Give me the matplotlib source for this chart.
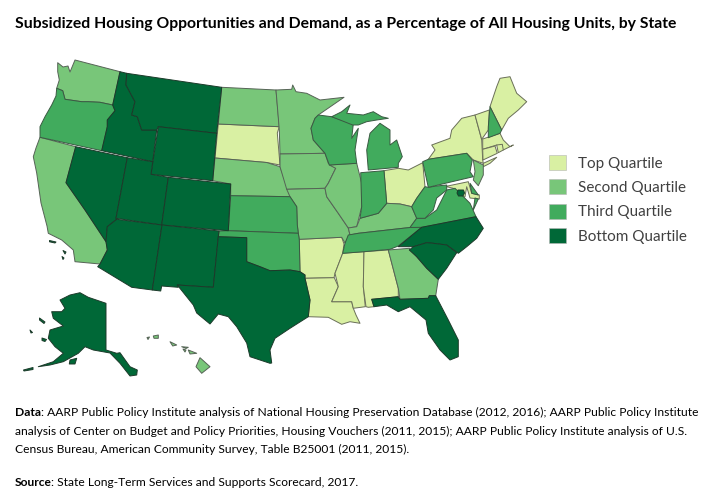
import matplotlib
matplotlib.use('Agg')
import matplotlib.pyplot as plt
from matplotlib.patches import Patch, Polygon

WA = [(57.7,62.7),(63,67),(68,66),(70,72),(75,60),(120,71.7),(112.7,105),(100,102.3),(88.3,101.7),(81.7,101.7),(70,100),(65,99.3),(62.7,90.7),(56.7,88.3),(59.3,80),(57.7,71.7)]
OR = [(56.7,88.3),(62.7,90.7),(65,99.3),(70,100),(81.7,101.7),(88.3,101.7),(100,102.3),(112.7,105),(115,110.7),(107.3,120),(107.3,126.7),(101.7,150.7),(40,137.3),(40,126.7),(45,116.7),(51.7,105),(56,96)]
CA = [(40,137.3),(75.7,146.7),(66,182.7),(85,210),(106,241.7),(107.3,250),(100,264),(75,261.7),(73.3,250),(61.7,240),(48.3,233.3),(47,226),(41,203),(36.7,173),(33.3,156.7),(36,148)]
NV = [(75.7,146.7),(127.3,157.7),(116,218.3),(116.7,219.3),(107.3,226.7),(106,241.7),(85,210),(66,182.7)]
ID = [(120,71.7),(126.7,73.3),(126,85),(135,101.7),(131.7,115),(137.3,116.7),(141.7,130),(156.7,130),(152.7,161.7),(101.7,150.7),(107.3,126.7),(107.3,120),(115,110.7),(112.7,105)]
MT = [(126.7,73.3),(221.7,87.3),(216.7,133.3),(158.3,126.7),(156.7,130),(141.7,130),(137.3,116.7),(131.7,115),(135,101.7),(126,85)]
WY = [(158.3,126.7),(216.7,133.3),(212.7,180.7),(151,174.3)]
UT = [(127.3,157.7),(152.7,161.7),(151,174.3),(168.3,177.3),(161.7,225),(116,218.3)]
CO = [(168.3,177.3),(230.7,184),(228.3,230.7),(161.7,225)]
AZ = [(116.7,219.3),(162,225),(152.3,290),(131.7,287.3),(97.7,266.7),(100,264),(107.3,250),(106,241.7),(107.3,226.7)]
NM = [(162,225),(219,231),(218.3,236.7),(213.3,287.3),(177.3,285),(178.3,287.3),(161.7,286),(160.7,291),(152.3,290)]
TX = [(218.3,236.7),(246.7,237.7),(246.7,261.7),(260,266.7),(270,270.7),(290,270),(300,271.7),(305,275),(305,278.3),(310,300),(308.3,316.7),(290,328.3),(275,338.3),(270,350),(271.7,363),(270,363.3),(250,356.7),(246.7,343),(236.7,326.7),(228.3,316.7),(218.3,314),(210,324),(196.7,313),(193.3,305),(177.3,285),(213.3,287.3)]
OK = [(219,231),(228.3,230.7),(298.3,233.3),(299.3,240),(300,271.7),(290,270),(270,270.7),(260,266.7),(246.7,261.7),(246.7,237.7),(218.3,236.7)]
KS = [(230.7,195.7),(290,196.7),(296.7,206.7),(297.3,225),(298.3,233.3),(228.3,230.7)]
NE = [(215,158),(266.7,162.5),(280,166.7),(288.3,190),(290,196.7),(230.7,195.7),(230.7,184),(212.7,180.7)]
SD = [(218.3,124),(279.3,126.7),(277.3,133),(280,165),(266.7,162.5),(215,158)]
ND = [(221.7,87.3),(276,90),(279.3,126.7),(218.3,124)]
MN = [(276,90),(291.7,89.3),(292.7,85),(296,91.7),(306.7,93.3),(320,100),(344,97.3),(318.3,115),(315,118.3),(311,128.3),(313.3,140),(325,153.3),(280,154),(279.3,130)]
IA = [(280,154),(325,153.3),(328.3,163.3),(335.7,168.3),(328.3,183.3),(325,188.3),(286.7,189.3),(280,166.7)]
MO = [(286.7,189.3),(325,188.3),(326.7,196.7),(338.3,213.3),(348.3,228),(350,235),(345,243),(341.7,237.3),(299.3,239.3),(298.3,233.3),(297.3,225),(296.7,206.7),(290,196.7)]
IL = [(329.3,165),(356.7,163.3),(361.7,183.3),(361.7,206.7),(356.7,226.7),(348.3,228),(338.3,213.3),(326.7,196.7),(325,188.3),(328.3,183.3),(335.7,168.3)]
IN = [(360.7,172.7),(384,170.7),(386.7,203.3),(378.3,213.3),(360,218.3),(361.7,206.7)]
OH = [(384,170.7),(398.3,168.3),(408.3,170),(422.7,162.7),(425,186.7),(416.7,198.3),(411.7,206.7),(400,204),(386.7,203.3)]
MI_LOWER = [(368.3,170),(366.7,150),(370,133.3),(380,123.3),(390,130),(390,145),(396.7,140),(402.3,156.7),(398.3,163.3),(398.3,167.3)]
MI_UPPER = [(331.7,116.7),(341.7,111.7),(350,105),(346.7,113.3),(363.3,115),(373.3,111.7),(381.7,116.7),(388.3,118.3),(376.7,120),(366.7,121.7),(358.3,125),(352.7,125)]
WI = [(318.3,115),(331.7,116.7),(353.3,124),(351.7,138.3),(358.3,128.3),(355,150),(356.7,163.3),(329.3,165),(325,153.3),(313.3,140),(311,128.3),(315,118.3)]
KY = [(350,235),(348.3,228),(356.7,226.7),(360,218.3),(378.3,213.3),(386.7,203.3),(400,204),(411.7,206.7),(416.7,218.3),(410,227.5),(358.3,233.3)]
TN = [(348.3,235),(358.3,233.3),(410,227.5),(421.7,227.3),(398.3,246),(390,249.3),(364,251.7),(342.7,253.3),(345,243.3)]
VA = [(410,227.5),(416.7,218.3),(425,218.3),(436.7,210),(446.7,190),(455,188.3),(461.7,195),(470,203.3),(476,216.7),(421.7,227.3)]
WV = [(416.7,218.3),(411.7,206.7),(416.7,198.3),(425,186.7),(428.3,187.3),(436.7,186),(446.7,185),(446.7,190),(436.7,198),(433.3,210),(425,218.3)]
PA = [(422.7,161.7),(428.3,159.3),(466.7,153.3),(472.3,160),(470,171.7),(473.3,176.7),(428.3,187.3)]
NY = [(428.3,159.3),(435,150),(431.7,145),(450,138.3),(451.7,130),(461.7,118.3),(475,115),(481.7,140),(482.7,160),(483.3,163.3),(473.3,160),(466.7,153.3)]
NY_LI = [(483.3,163.3),(496.7,157.3),(490,163.3),(483.3,166.7)]
VT = [(475,115),(489.3,110),(488.3,130),(481.7,139.3)]
NH = [(490,106.7),(501.7,130),(500,133.3),(488.3,137.7),(488.3,126.7)]
ME = [(490,106.7),(496.7,86.7),(500,78.3),(510,76.7),(516.7,93.3),(526.7,101.7),(518.3,110),(508.3,118.3),(501.7,130)]
MA = [(482.7,139),(500,133.3),(503.3,140),(510,146.7),(513.3,145),(503.3,150),(496.7,145),(482.7,149.3)]
CT = [(482.7,149.3),(495,146),(497.3,153.3),(483,160)]
RI = [(496.7,145),(502.3,144.3),(503.3,150),(498.3,152.7)]
NJ = [(473.3,160),(483.3,165),(483.3,175),(478.3,185.7),(473.3,180),(475,171.7)]
MD = [(436.7,188.3),(468.3,181.7),(471.7,193.3),(479.3,195),(479.3,199),(470,198),(466.7,186.7),(465,196.7),(460,198),(453.3,188.3),(446.7,186.7),(438.3,191.7)]
DE = [(470,183.3),(478.3,195),(471.7,193.3)]
VA_SHORE = [(478.3,199),(473.3,210),(475,198)]
DC = [(458,190),(463.5,190),(464.5,193),(463,196),(458.5,196),(457,193)]
NC = [(398.3,246.7),(421.7,227.3),(476,216.7),(483.3,228.3),(476.7,238.3),(466.7,246.7),(458.3,253.3),(446.7,245),(433.3,243.3),(426.7,242.7),(413.3,246.7)]
SC = [(409.3,250),(413.3,246.7),(426.7,242.7),(433.3,243.3),(446.7,245),(456.7,252.7),(446.7,268.3),(438.3,279.3),(426.7,268.3),(416.7,256.7)]
GA = [(388.3,250),(409.3,248.3),(416.7,256.7),(426.7,268.3),(438.3,279.3),(435.7,295.7),(429.3,295.7),(428.3,298.3),(400,299.3),(398.3,288.3)]
FL = [(371.7,299.3),(398.3,296.7),(400,299.3),(428.3,298.3),(429.3,295.7),(435.7,295.7),(448.3,320),(458.3,340),(458.3,356.7),(450,360),(440,350),(428.3,333.3),(426,320),(410,306.7),(398.3,311.7),(386.7,305),(374,306.7)]
AL = [(364,251.7),(388.3,250),(398.3,288.3),(398.3,296.7),(371.7,299.3),(374,306.7),(368.3,307.3),(366,306.7),(363.3,286.7)]
MS = [(342.7,253.3),(364,251.7),(363.3,286.7),(365.3,306.7),(353.3,308.3),(351.7,301.7),(331.7,301.7),(338.3,286.7),(335,273.3)]
AR = [(299.3,239.3),(341.7,237.3),(344,244),(342.7,253.3),(335,273.3),(334,277.7),(305,278.3),(305,275),(300,271.7)]
LA = [(305,278.3),(334.3,277.7),(338.3,286.7),(331.7,301.7),(351.7,301.7),(353.3,308.3),(356,315),(360,323.3),(350,321.7),(341.7,324.3),(328.3,317.3),(308.3,316.7),(310,300)]
AK = [(60,300),(70,295),(80,292.7),(88.3,297.3),(106,303.3),(106,350),(116.7,353.3),(120,352.7),(130,366.7),(137.3,370),(136.7,375),(130,376),(120,363.3),(110,353),(93.3,350),(85,346.7),(78.3,353.3),(63.3,361.7),(50,365),(38.3,366.7),(53.3,361.7),(63.3,353.3),(55,346.7),(48.3,338.3),(50,330),(63.3,326),(53.3,318.3),(51.7,311.7),(61.7,311.7),(65,308.3)]
AK_KODIAK = [(70,360),(76.7,358.3),(75,364),(69.3,364)]
AK_ALEUT = [(23.5,370),(33,367.5),(33,369.5),(24,371)]
AK_LAWRENCE = [(39.5,318),(45,322),(44,323.5),(39.5,320)]
AK_NUNIVAK = [(42,338),(46.5,339.5),(45,341.5),(42,340.5)]
AK_SMALL = [(30,330),(32.5,332.5),(31,333)]
CA_IS1 = [(49.5,240.5),(56,242),(55,243),(49.5,241.8)]
CA_IS2 = [(63,250.5),(66,252),(65,254)]
CA_IS3 = [(62,256.5),(64,258),(63,259.5)]
HI_BIG = [(200,357.7),(210,366.7),(201.7,373.3),(196,366.7)]
HI_MAUI = [(188.3,350),(196.7,353.3),(190,354)]
HI_MOLOKAI = [(181.7,346.7),(188.3,347.3),(186,348.5)]
HI_LANAI = [(183,349),(186,350),(185,352)]
HI_OAHU = [(170,341.7),(176.7,345),(172.7,346)]
HI_KAUAI = [(153.3,336),(158.3,335),(158.3,338.3),(154,338.3)]
HI_NIIHAU = [(147,337.5),(149.5,337),(148,339.5)]

# grouped by scorecard quartile
top_states = [SD, OH, NY, NY_LI, VT, ME, MA, CT, RI, MD, AR, LA, MS, AL]
second_states = [WA, CA, ND, NE, MN, IA, MO, IL, KY, GA, NJ,
                 HI_BIG, HI_MAUI, HI_MOLOKAI, HI_LANAI, HI_OAHU, HI_KAUAI, HI_NIIHAU]
third_states = [OR, KS, OK, WI, MI_LOWER, MI_UPPER, IN, TN, VA, VA_SHORE, WV, PA, NH, DE]
bottom_states = [ID, MT, WY, NV, UT, CO, AZ, NM, TX, NC, SC, FL, DC,
                 CA_IS1, CA_IS2, CA_IS3,
                 AK, AK_KODIAK, AK_ALEUT, AK_LAWRENCE, AK_NUNIVAK, AK_SMALL]

quartile_labels = ['Top Quartile', 'Second Quartile', 'Third Quartile', 'Bottom Quartile']
quartile_colors = ['#D9F0A3', '#78C679', '#41AB5D', '#006837']
quartile_edges = ['#6a6f58', '#566356', '#3a5a42', '#1c3a2a']

title = 'Subsidized Housing Opportunities and Demand, as a Percentage of All Housing Units, by State'
data_lines = [': AARP Public Policy Institute analysis of National Housing Preservation Database (2012, 2016); AARP Public Policy Institute',
              'analysis of Center on Budget and Policy Priorities, Housing Vouchers (2011, 2015); AARP Public Policy Institute analysis of U.S.',
              'Census Bureau, American Community Survey, Table B25001 (2011, 2015).']
source_line = ': State Long-Term Services and Supports Scorecard, 2017.'

plt.rcParams['font.family'] = ['Lato', 'DejaVu Sans']

fig = plt.figure(figsize=(7.07, 4.96), dpi=100)
ax = fig.add_axes([0, 0, 1, 1])
ax.set_xlim(0, 707)
ax.set_ylim(496, 0)
ax.axis('off')

groups = [top_states, second_states, third_states, bottom_states]
for i, group in enumerate(groups):
  for shape in group:
    ax.add_patch(Polygon(shape, closed=True, facecolor=quartile_colors[i],
                         edgecolor=quartile_edges[i], linewidth=0.7, joinstyle='round', zorder=2 + i))

handles = [Patch(facecolor=quartile_colors[i], edgecolor='#b5b5b5', linewidth=0.4) for i in range(4)]
leg = ax.legend(handles, quartile_labels, loc='upper left', bbox_to_anchor=(549 / 707, 1 - 155 / 496),
                frameon=False, fontsize=11, handlelength=1.11, handleheight=1.11,
                handletextpad=0.78, labelspacing=0.58, borderpad=0, borderaxespad=0)
for t in leg.get_texts():
  t.set_color('#404040')

ax.text(15, 24, title, fontsize=11.37, fontweight='bold', color='black', va='center')

for text, y in zip(data_lines, [412, 431, 449]):
  x = 41 if text.startswith(':') else 15
  ax.text(x, y, text, fontsize=8.68, color='black', va='center')
ax.text(15, 412, 'Data', fontsize=8.68, fontweight='bold', color='black', va='center')
ax.text(15, 483, 'Source', fontsize=8.68, fontweight='bold', color='black', va='center')
ax.text(51, 483, source_line, fontsize=8.68, color='black', va='center')

fig.savefig('out.png', dpi=100)
